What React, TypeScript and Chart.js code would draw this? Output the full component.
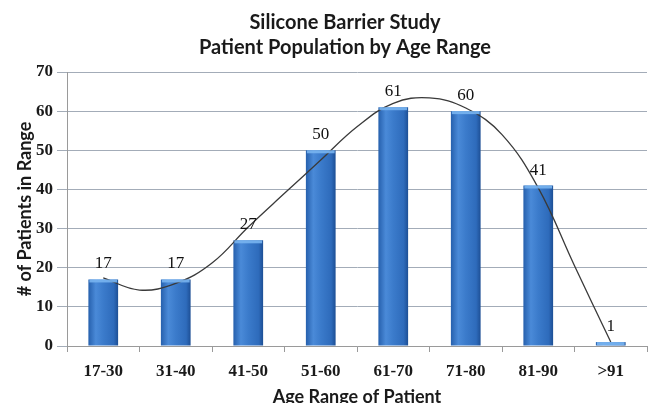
import React, { useEffect, useRef } from "react";
import { Chart, registerables } from "chart.js";

Chart.register(...registerables);

const categories = ["17-30", "31-40", "41-50", "51-60", "61-70", "71-80", "81-90", ">91"];
const patients = [17, 17, 27, 50, 61, 60, 41, 1];
// trend line at half-category steps (1 = first category)
const trendX = [1, 1.5, 2, 2.5, 3, 3.5, 4, 4.5, 5, 5.5, 6, 6.5, 7, 7.5, 8];
const trendY = [17.4, 14.3, 16, 21.2, 30.4, 39, 47.5, 56, 62, 63.4, 60.8, 54, 40.4, 20.5, 1];
const titleLines = ["Silicone Barrier Study", "Patient Population by Age Range"];
const yTitle = "# of Patients in Range";
const xTitle = "Age Range of Patient";

const BAR_PCT = 0.41;
const SANS = "Lato, 'Open Sans', sans-serif";
const SERIF = "'Liberation Serif', 'DejaVu Serif', serif";

const extrasPlugin = {
  id: "extras",
  afterDatasetsDraw(chart: any) {
    const ctx = chart.ctx;
    const meta = chart.getDatasetMeta(0);
    ctx.save();
    meta.data.forEach((bar: any, i: number) => {
      const w = bar.width;
      ctx.fillStyle = "rgba(120,180,240,0.9)";
      ctx.fillRect(bar.x - w / 2 + 1, bar.y, w - 2, Math.min(3, bar.base - bar.y));
      ctx.fillStyle = "#111";
      ctx.font = `17px ${SERIF}`;
      ctx.textAlign = "center";
      ctx.textBaseline = "alphabetic";
      ctx.fillText(String(patients[i]), bar.x, bar.y - 11);
    });
    ctx.restore();
  },
  afterDraw(chart: any) {
    const ctx = chart.ctx;
    ctx.save();
    ctx.fillStyle = "#1a1a1a";
    ctx.font = `bold 20px ${SANS}`;
    ctx.textAlign = "center";
    ctx.textBaseline = "middle";
    ctx.fillText(titleLines[0], 345, 23);
    ctx.fillText(titleLines[1], 345, 48);
    ctx.restore();
  },
};

export default function App() {
  const ref = useRef<HTMLCanvasElement | null>(null);
  useEffect(() => {
    if (!ref.current) return;
    const chart = new Chart(ref.current, {
      type: "bar",
      data: {
        labels: categories,
        datasets: [
          {
            type: "bar",
            data: patients,
            grouped: false,
            barPercentage: BAR_PCT,
            categoryPercentage: 1,
            borderWidth: 0,
            backgroundColor: (c: any) => {
              const chart = c.chart;
              const xs = chart.scales?.x;
              if (!chart.chartArea || !xs || c.type !== "data") return "#3573c4";
              const cx = xs.getPixelForValue(c.dataIndex);
              const half = ((xs.width / categories.length) * BAR_PCT) / 2;
              const g = chart.ctx.createLinearGradient(cx - half, 0, cx + half, 0);
              g.addColorStop(0, "#2660ad");
              g.addColorStop(0.25, "#4a8ad8");
              g.addColorStop(0.5, "#3b7bcb");
              g.addColorStop(0.85, "#2e6bbb");
              g.addColorStop(1, "#1d4f95");
              return g;
            },
            order: 2,
          } as any,
          {
            type: "line",
            data: trendX.map((x, i) => ({ x, y: trendY[i] })),
            xAxisID: "xTrend",
            borderColor: "#3a3a3a",
            borderWidth: 1.3,
            pointRadius: 0,
            tension: 0.4,
            fill: false,
            order: 1,
          } as any,
        ],
      },
      options: {
        animation: false,
        responsive: false,
        layout: { padding: { left: 0, top: 72, right: 3, bottom: 0 } },
        plugins: {
          legend: { display: false },
          tooltip: { enabled: false },
          title: { display: false },
        },
        scales: {
          x: {
            type: "category",
            offset: true,
            grid: { drawOnChartArea: false, drawTicks: true, tickLength: 6, color: "#9a9a9a", offset: true },
            border: { color: "#9a9a9a" },
            ticks: { color: "#1a1a1a", font: { family: SERIF, size: 17, weight: "bold" }, padding: 9, maxRotation: 0 },
            title: {
              display: true,
              text: xTitle,
              color: "#1a1a1a",
              font: { family: SANS, size: 18, weight: "bold" },
              padding: { top: 0, bottom: 12 },
            },
            afterFit: (s: any) => {
              s.height = 74;
            },
          },
          xTrend: {
            type: "linear",
            display: false,
            offset: false,
            grid: { offset: false },
            min: 0.5,
            max: 8.5,
          },
          y: {
            min: 0,
            max: 70,
            ticks: { stepSize: 10, color: "#1a1a1a", font: { family: SERIF, size: 17, weight: "bold" }, padding: 4 },
            grid: { color: "#a3acb8", tickLength: 10, lineWidth: 1 },
            border: { color: "#9a9a9a" },
            title: {
              display: true,
              text: yTitle,
              color: "#1a1a1a",
              font: { family: SANS, size: 18, weight: "bold" },
              padding: { top: 14, bottom: 0 },
            },
            afterFit: (s: any) => {
              s.width = 67;
            },
          },
        },
      } as any,
      plugins: [extrasPlugin],
    });
    return () => chart.destroy();
  }, []);
  return (
    <div style={{ position: "absolute", left: 0, top: 0, width: 650, height: 403, overflow: "hidden", background: "#fff" }}>
      <canvas ref={ref} width={650} height={420} style={{ width: 650, height: 420, display: "block" }} />
    </div>
  );
}
